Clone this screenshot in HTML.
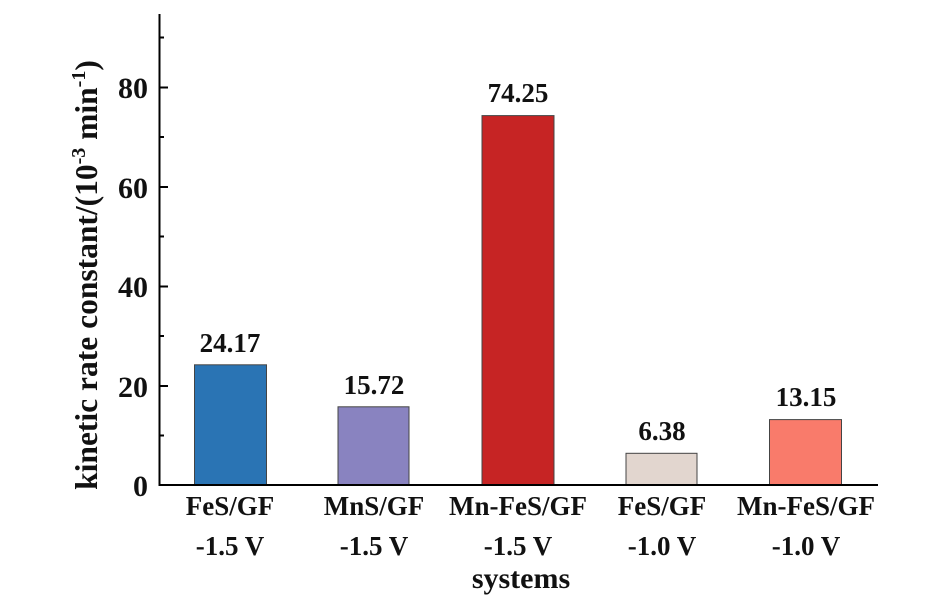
<!DOCTYPE html>
<html><head><meta charset="utf-8"><style>
html,body{margin:0;padding:0;background:#fff}
svg text{font-family:"Liberation Serif",serif;font-weight:bold;fill:#111}
</style></head><body>
<svg width="948" height="605" viewBox="0 0 948 605" xmlns="http://www.w3.org/2000/svg">
<g stroke="#444" stroke-width="1">
<rect x="194.5" y="364.8" width="72" height="120.2" fill="#2a74b4"/>
<rect x="338" y="406.8" width="71" height="78.2" fill="#8983c0"/>
<rect x="482" y="115.6" width="72" height="369.4" fill="#c62424"/>
<rect x="626" y="453.3" width="71" height="31.7" fill="#e2d6cf"/>
<rect x="769.5" y="419.6" width="72" height="65.4" fill="#f97b6b"/>
</g>
<g stroke="#000" stroke-width="2" fill="none">
<line x1="159.5" y1="14" x2="159.5" y2="486"/>
<line x1="158.5" y1="485" x2="878" y2="485"/>
<line x1="159" y1="386" x2="168" y2="386"/>
<line x1="159" y1="286.5" x2="168" y2="286.5"/>
<line x1="159" y1="187" x2="168" y2="187"/>
<line x1="159" y1="87.5" x2="168" y2="87.5"/>
<line x1="159" y1="435.5" x2="164" y2="435.5"/>
<line x1="159" y1="336" x2="164" y2="336"/>
<line x1="159" y1="236.5" x2="164" y2="236.5"/>
<line x1="159" y1="137" x2="164" y2="137"/>
<line x1="159" y1="37.5" x2="164" y2="37.5"/>
</g>
<g font-size="30" text-anchor="end">
<text x="148" y="496">0</text>
<text x="148" y="397">20</text>
<text x="148" y="297">40</text>
<text x="148" y="198">60</text>
<text x="148" y="98">80</text>
</g>
<g font-size="27" text-anchor="middle">
<text x="230" y="352">24.17</text>
<text x="374" y="394">15.72</text>
<text x="518" y="102">74.25</text>
<text x="662" y="440">6.38</text>
<text x="806" y="406">13.15</text>
<text x="230" y="515">FeS/GF</text><text x="230" y="555">-1.5 V</text>
<text x="374" y="515">MnS/GF</text><text x="374" y="555">-1.5 V</text>
<text x="518" y="515">Mn-FeS/GF</text><text x="518" y="555">-1.5 V</text>
<text x="662" y="515">FeS/GF</text><text x="662" y="555">-1.0 V</text>
<text x="806" y="515">Mn-FeS/GF</text><text x="806" y="555">-1.0 V</text>
<text x="521" y="588" font-size="30">systems</text>
<text transform="translate(97,275) rotate(-90)" font-size="31.5">kinetic rate constant/(10<tspan font-size="20" dy="-12">-3</tspan><tspan dy="12"> min</tspan><tspan font-size="20" dy="-12">-1</tspan><tspan dy="12">)</tspan></text>
</g>
</svg>
</body></html>
